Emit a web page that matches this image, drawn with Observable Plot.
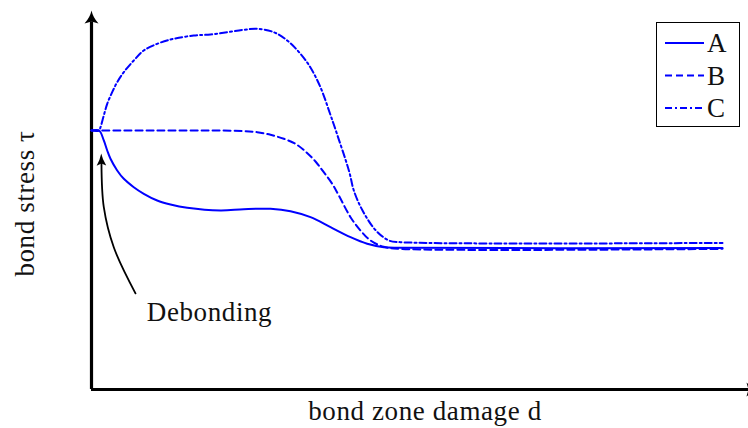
<!DOCTYPE html>
<html><head><meta charset="utf-8">
<script src="https://cdn.jsdelivr.net/npm/d3@7"></script>
<script src="https://cdn.jsdelivr.net/npm/@observablehq/plot@0.6"></script>
<style>
body{margin:0;background:#fff;}
#wrap{position:relative;width:748px;height:428px;font-family:"Liberation Serif",serif;}
#wrap svg text{letter-spacing:0.6px;}
#legend{position:absolute;left:656px;top:22px;width:82px;height:103px;border:1px solid #000;background:#fff;}
#legend svg{display:block;}
</style></head><body><div id="wrap"></div>
<script>
// Series A (solid)
const dA   = [0, 0.012, 0.0195, 0.0249, 0.0301, 0.0407, 0.0512, 0.0670, 0.0829, 0.1041, 0.1252, 0.1517, 0.2044, 0.2414, 0.2837, 0.3154, 0.3471, 0.3788, 0.4105, 0.4369, 0.4632, 0.4897, 1.0];
const tauA = [1.0, 1.0, 0.9614, 0.9228, 0.8907, 0.8456, 0.8135, 0.7811, 0.7556, 0.7297, 0.7143, 0.7015, 0.6911, 0.6961, 0.6977, 0.6884, 0.6653, 0.6266, 0.5880, 0.5625, 0.5494, 0.5471, 0.546];
// Series B (dashed)
const dB   = [0, 0.1, 0.2, 0.24, 0.2626, 0.2837, 0.3048, 0.3233, 0.3391, 0.3550, 0.3681, 0.3815, 0.3919, 0.4105, 0.4263, 0.4422, 0.463, 0.490, 1.0];
const tauB = [1.0, 1.0, 1.0, 0.998, 0.9934, 0.9834, 0.9680, 0.9486, 0.9189, 0.8803, 0.8390, 0.7942, 0.7490, 0.6653, 0.6139, 0.5753, 0.551, 0.543, 0.543];
// Series C (dash-dot)
const dC   = [0, 0.012, 0.0143, 0.0195, 0.0249, 0.0328, 0.0407, 0.0512, 0.0670, 0.0829, 0.1041, 0.1252, 0.1384, 0.1621, 0.1886, 0.2151, 0.2414, 0.2626, 0.2889, 0.3101, 0.3312, 0.347, 0.363, 0.379, 0.384, 0.392, 0.4025, 0.4094, 0.4157, 0.4295, 0.4507, 0.4715, 0.4897, 1.0];
const tauC = [1.0, 1.0, 1.0127, 1.0579, 1.1031, 1.1479, 1.1865, 1.2251, 1.2703, 1.3089, 1.3347, 1.3514, 1.3579, 1.3668, 1.3707, 1.3795, 1.3888, 1.3927, 1.3795, 1.3475, 1.2961, 1.243, 1.166, 1.058, 1.023, 0.965, 0.888, 0.832, 0.7683, 0.6911, 0.6139, 0.5753, 0.5689, 0.566];
// Annotation arrow path and label
const noteD   = [0.0697, 0.0353, 0.0195, 0.0158];
const noteTau = [0.371, 0.549, 0.704, 0.873];
const noteTip = [{d: 0.0154, tau: 0.911}];
const noteLabel = [{d: 0.187, tau: 0.297, text: "Debonding"}];
// Labels
const seriesNames = ["A", "B", "C"];
const xLabel = "bond zone damage d";
const yLabel = "bond stress τ";

const dMax = 1.0412, tauMax = 1.4633;
const blue = "#0000ff";
const dashes = [null, "7,4", "7,3,2,3"];

const toRows = (xs, ys) => xs.map((x, i) => ({d: x, tau: ys[i]}));
const rowsA = toRows(dA, tauA), rowsB = toRows(dB, tauB), rowsC = toRows(dC, tauC);
const noteRows = toRows(noteD, noteTau);

// LaTeX-style filled arrowhead, tip at origin pointing up
const head = {
  draw(ctx) {
    ctx.moveTo(0, 0);
    ctx.quadraticCurveTo(-1.5, 7, -7, 13);
    ctx.lineTo(0, 11);
    ctx.lineTo(7, 13);
    ctx.quadraticCurveTo(1.5, 7, 0, 0);
    ctx.closePath();
  }
};
const smallHead = {
  draw(ctx) {
    ctx.moveTo(0, 0);
    ctx.quadraticCurveTo(-1.2, 6, -4.8, 12);
    ctx.lineTo(0, 10);
    ctx.lineTo(4.8, 12);
    ctx.quadraticCurveTo(1.2, 6, 0, 0);
    ctx.closePath();
  }
};

const fontFam = "Liberation Serif";
const chart = Plot.plot({
  width: 748, height: 428,
  marginLeft: 91, marginRight: 0, marginTop: 10, marginBottom: 39,
  style: {fontFamily: fontFam, background: "white"},
  x: {domain: [0, dMax], axis: null},
  y: {domain: [0, tauMax], axis: null},
  marks: [
    Plot.ruleY([0], {stroke: "black", strokeWidth: 3.2}),
    Plot.ruleX([0], {y1: 0, y2: 1.42, stroke: "black", strokeWidth: 3.2}),
    Plot.dot([0], {x: 0, y: tauMax, symbol: head, fill: "black", stroke: "none"}),
    Plot.dot([0], {x: 1.0586, y: 0, symbol: head, rotate: 90, fill: "black", stroke: "none"}),
    Plot.line(rowsA, {x: "d", y: "tau", stroke: blue, strokeWidth: 2, curve: "catmull-rom"}),
    Plot.line(rowsB, {x: "d", y: "tau", stroke: blue, strokeWidth: 2, strokeDasharray: dashes[1], curve: "catmull-rom"}),
    Plot.line(rowsC, {x: "d", y: "tau", stroke: blue, strokeWidth: 2, strokeDasharray: dashes[2], curve: "catmull-rom"}),
    Plot.line(noteRows, {x: "d", y: "tau", stroke: "black", strokeWidth: 1.8, curve: "catmull-rom"}),
    Plot.dot(noteTip, {x: "d", y: "tau", symbol: smallHead, rotate: -1, fill: "black", stroke: "none"}),
    Plot.text(noteLabel, {x: "d", y: "tau", text: "text", fontSize: 27, fill: "#111"}),
    Plot.text([xLabel], {frameAnchor: "bottom", textAnchor: "middle", lineAnchor: "middle", dx: 5, dy: 22, fontSize: 27, fill: "#111"}),
    Plot.text([yLabel], {frameAnchor: "left", textAnchor: "middle", lineAnchor: "middle", dx: -66, dy: 3.5, rotate: -90, fontSize: 27, fill: "#111"})
  ]
});
const wrap = document.getElementById("wrap");
wrap.appendChild(chart);

// Legend
const legend = document.createElement("div");
legend.id = "legend";
const ns = "http://www.w3.org/2000/svg";
const lsvg = document.createElementNS(ns, "svg");
lsvg.setAttribute("width", 82); lsvg.setAttribute("height", 103);
seriesNames.forEach((name, i) => {
  const cy = 20 + i * 32.5;
  const ln = document.createElementNS(ns, "line");
  ln.setAttribute("x1", 8); ln.setAttribute("x2", 47);
  ln.setAttribute("y1", cy); ln.setAttribute("y2", cy);
  ln.setAttribute("stroke", blue); ln.setAttribute("stroke-width", 2);
  if (dashes[i]) ln.setAttribute("stroke-dasharray", dashes[i]);
  lsvg.appendChild(ln);
  const t = document.createElementNS(ns, "text");
  t.setAttribute("x", 50); t.setAttribute("y", cy);
  t.setAttribute("dy", "0.35em");
  t.setAttribute("font-family", fontFam);
  t.setAttribute("font-size", 27);
  t.setAttribute("fill", "#111");
  t.textContent = name;
  lsvg.appendChild(t);
});
legend.appendChild(lsvg);
wrap.appendChild(legend);
</script></body></html>
